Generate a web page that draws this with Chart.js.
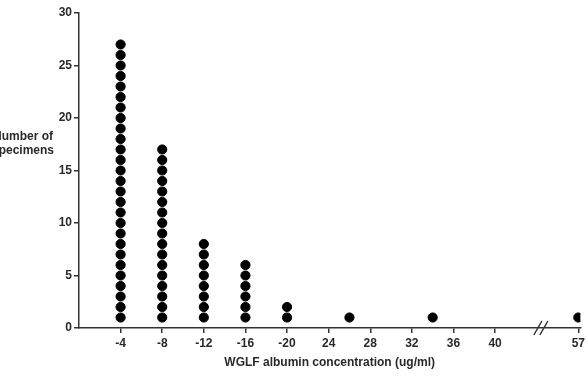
<!DOCTYPE html>
<html>
<head>
<meta charset="utf-8">
<script src="https://cdn.jsdelivr.net/npm/chart.js@4"></script>
<style>
  html, body { margin: 0; padding: 0; background: #fff; }
  #wrap { width: 588px; height: 380px; position: relative; }
</style>
</head>
<body>
<div id="wrap"><canvas id="graph"></canvas></div>
<script>
// valeurs
const concentrations = [-4, -8, -12, -16, -20, 26, 34, 57];
const nbSpecimens = [27, 17, 8, 6, 2, 1, 1, 1];
const tickLabels = ["-4", "-8", "-12", "-16", "-20", "24", "28", "32", "36", "40", "57"];
const tickValues = [-4, -8, -12, -16, -20, 24, 28, 32, 36, 40, 57];
const yTicks = [0, 5, 10, 15, 20, 25, 30];

// axe coupé : 4 ug/ml par graduation jusqu'à 40, puis 57 après la coupure
function pos(v) {
    return v === 57 ? 12 : Math.abs(v) / 4;
}

// un point par spécimen, empilés verticalement
const points = [];
concentrations.forEach((c, i) => {
    for (let k = 1; k <= nbSpecimens[i]; k++) {
        points.push({ x: pos(c), y: k });
    }
});

const fontTicks = { family: "Liberation Sans, Arial, sans-serif", size: 12, weight: "bold" };
const couleurTexte = "#2a2a2a";

// titre de l'axe Y (horizontal, coupé à gauche) + marque de coupure
const annotations = {
    id: "annotations",
    afterDraw(chart) {
        const ctx = chart.ctx;
        const xs = chart.scales.x;
        const bottom = chart.chartArea.bottom;
        ctx.save();
        ctx.fillStyle = couleurTexte;
        ctx.font = "bold 12px Liberation Sans, Arial, sans-serif";
        ctx.textAlign = "right";
        ctx.textBaseline = "middle";
        ctx.fillText("Number of", 53, 137);
        ctx.fillText("specimens", 54, 151);

        // marque "//"
        const bx = xs.getPixelForValue(11.1);
        ctx.strokeStyle = "#333";
        ctx.lineWidth = 1.5;
        [-3, 3].forEach(dx => {
            ctx.beginPath();
            ctx.moveTo(bx + dx - 4, bottom + 7);
            ctx.lineTo(bx + dx + 4, bottom - 7);
            ctx.stroke();
        });
        ctx.restore();
    }
};

new Chart(document.getElementById("graph").getContext("2d"), {
    type: "scatter",
    data: {
        datasets: [{
            data: points,
            backgroundColor: "#000",
            borderColor: "#000",
            pointRadius: 4.6,
            pointHoverRadius: 4.6
        }]
    },
    options: {
        responsive: true,
        maintainAspectRatio: false,
        animation: false,
        layout: { padding: { top: 13, right: 6, left: 0, bottom: 0 } },
        plugins: {
            legend: { display: false },
            tooltip: { enabled: false }
        },
        scales: {
            x: {
                type: "linear",
                min: 0,
                max: 12.05,
                afterBuildTicks: scale => {
                    scale.ticks = tickValues.map(v => ({ value: pos(v) }));
                },
                afterFit: scale => { scale.height = 52; },
                grid: { drawOnChartArea: false, drawTicks: true, tickLength: 5, tickColor: "#333", lineWidth: 1.5 },
                border: { color: "#333", width: 1.5 },
                ticks: {
                    color: couleurTexte,
                    font: fontTicks,
                    padding: 3,
                    maxRotation: 0,
                    autoSkip: false,
                    callback: (v, i) => tickLabels[i]
                },
                title: {
                    display: true,
                    text: "WGLF albumin concentration (ug/ml)",
                    color: couleurTexte,
                    font: fontTicks,
                    padding: { top: 4, bottom: 10 }
                }
            },
            y: {
                min: 0,
                max: 30,
                afterBuildTicks: scale => {
                    scale.ticks = yTicks.map(v => ({ value: v }));
                },
                afterFit: scale => { scale.width = 79; },
                grid: { drawOnChartArea: false, drawTicks: true, tickLength: 5, tickColor: "#333", lineWidth: 1.5 },
                border: { color: "#333", width: 1.5 },
                ticks: {
                    color: couleurTexte,
                    font: fontTicks,
                    padding: 2
                }
            }
        }
    },
    plugins: [annotations]
});
</script>
</body>
</html>
